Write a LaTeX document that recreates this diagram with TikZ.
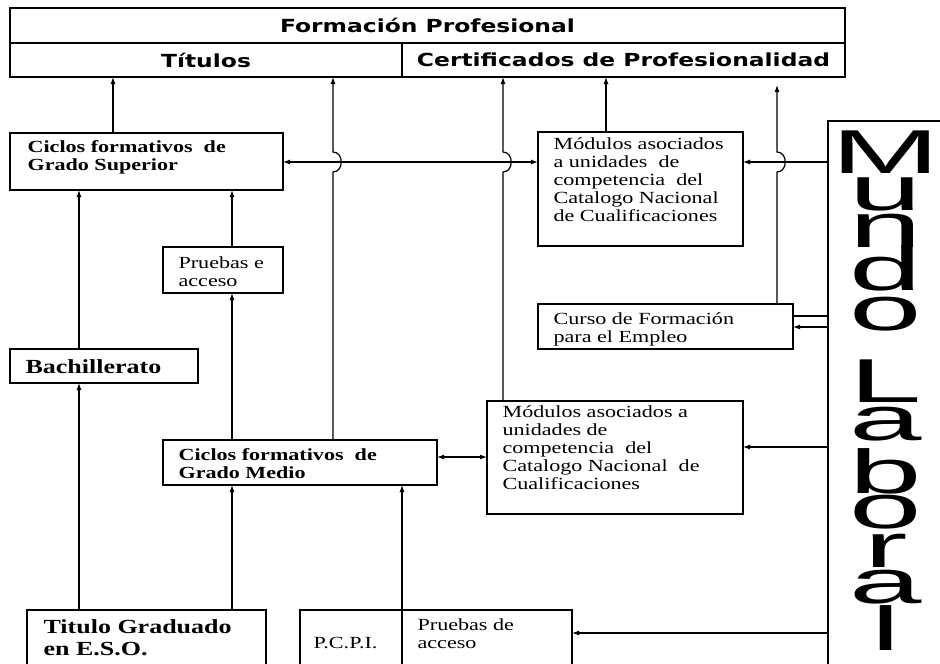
\documentclass[tikz,border=0pt]{standalone}
\usepackage{fontspec}
\setmainfont{Liberation Serif}[FakeStretch=1.3]
\newfontfamily\headfont{DejaVu Sans}[FakeStretch=1.3]
\newfontfamily\mundofont{Liberation Sans}[FakeStretch=2.1]
\usetikzlibrary{arrows.meta,calc}

\begin{document}
\begin{tikzpicture}
[ x=1pt, y=-1pt, line width=1.2pt
, box/.style={rectangle, draw, line width=1.4pt, inner sep=0pt, outer sep=0pt, anchor=north west}
, head/.style={box, font=\headfont\bfseries\fontsize{18}{20}\selectfont}
, txt/.style={anchor=north west, inner sep=0pt, align=left, font=\fontsize{17}{18}\selectfont}
, boldtxt/.style={txt, font=\fontsize{17}{18}\selectfont\bfseries}
, bigtxt/.style={txt, font=\fontsize{20}{22}\selectfont\bfseries}
, letter/.style={anchor=base, inner sep=0pt, text height=30pt, text depth=0pt, font=\mundofont\fontsize{62}{62}\selectfont}
, arrow/.style={-{Latex[length=7pt,width=5pt]}}
, twoway/.style={{Latex[length=7pt,width=5pt]}-{Latex[length=7pt,width=5pt]}}
]
\useasboundingbox (0,0) rectangle (940,664);
% Header:
\node (fp) [head, minimum width=835pt, minimum height=35pt] at (10,8) {Formación Profesional};
\node (tit) [head, minimum width=392pt, minimum height=34pt] at (10,43) {Títulos};
\node (cert) [head, minimum width=443pt, minimum height=34pt] at (402,43) {Certificados de Profesionalidad};
% Boxes:
\node (gs) [box, minimum width=273pt, minimum height=57pt] at (10,133) {};
\node (pru) [box, minimum width=120pt, minimum height=46pt] at (163,247) {};
\node (bach) [box, minimum width=188pt, minimum height=34pt] at (10,349) {};
\node (gm) [box, minimum width=274pt, minimum height=45pt] at (163,440) {};
\node (eso) [box, minimum width=239pt, minimum height=70pt] at (27,610) {};
\node (pcpi) [box, minimum width=102pt, minimum height=70pt] at (300,610) {};
\node (pru2) [box, minimum width=170pt, minimum height=70pt] at (402,610) {};
\node (mod1) [box, minimum width=205pt, minimum height=114pt] at (538,132) {};
\node (curso) [box, minimum width=255pt, minimum height=45pt] at (538,304) {};
\node (mod2) [box, minimum width=256pt, minimum height=113pt] at (487,401) {};
\node (mundo) [box, minimum width=122pt, minimum height=559pt] at (828,121) {};
% Texts:
\node (gst) [boldtxt] at ([shift={(17,7)}]gs.north west) {Ciclos formativos\ \ de\\Grado Superior};
\node (prut) [txt] at ([shift={(15,9)}]pru.north west) {Pruebas e\\acceso};
\node (bacht) [bigtxt] at ([shift={(15,10)}]bach.north west) {Bachillerato};
\node (gmt) [boldtxt] at ([shift={(15,8)}]gm.north west) {Ciclos formativos\ \ de\\Grado Medio};
\node (esot) [bigtxt] at ([shift={(16,9)}]eso.north west) {Titulo Graduado\\en E.S.O.};
\node (pcpit) [txt] at ([shift={(13,27)}]pcpi.north west) {P.C.P.I.};
\node (pru2t) [txt] at ([shift={(15,8)}]pru2.north west) {Pruebas de\\acceso};
\node (mod1t) [txt] at ([shift={(15,5)}]mod1.north west) {Módulos asociados\\a unidades\ \ de\\competencia\ \ del\\Catalogo Nacional\\de Cualificaciones};
\node (cursot) [txt] at ([shift={(15,8)}]curso.north west) {Curso de Formación\\para el Empleo};
\node (mod2t) [txt] at ([shift={(15,4)}]mod2.north west) {Módulos asociados a\\unidades de\\competencia\ \ del\\Catalogo Nacional\ \ de\\Cualificaciones};
% Mundo Laboral, one letter under the other:
\foreach \ch/\yb [count=\i] in {M/173,u/210,n/247,d/290,o/330,L/402,a/440,b/493,o/528,r/567,a/603,l/650}
  \node (ml\i) [letter] at (886,\yb) {\ch};
% Columns and rows:
\coordinate (xa) at (79,0);
\coordinate (xb) at (113,0);
\coordinate (xc) at (232,0);
\coordinate (xd) at (333,0);
\coordinate (xf) at (503,0);
\coordinate (xg) at (606,0);
\coordinate (xh) at (777,0);
\coordinate (ya) at (0,162);
\coordinate (yb) at (0,316);
\coordinate (yc) at (0,327);
\coordinate (yd) at (0,447);
\coordinate (ye) at (0,457);
\coordinate (yf) at (0,633);
% Connectors:
\draw [arrow] (eso.north -| xa) -- (bach.south -| xa);
\draw [arrow] (bach.north -| xa) -- (gs.south -| xa);
\draw [arrow] (eso.north -| xc) -- (gm.south -| xc);
\draw [arrow] (gm.north -| xc) -- (pru.south -| xc);
\draw [arrow] (pru.north -| xc) -- (gs.south -| xc);
\draw [arrow] (pcpi.north east) -- (gm.south -| pcpi.north east);
\draw [arrow] (gs.north -| xb) -- (tit.south -| xb);
\draw [arrow] (gm.north -| xd) -- ($(xd |- ya)+(0,10)$) .. controls +(11,0) and +(11,0) .. ($(xd |- ya)+(0,-10)$) -- (tit.south -| xd);
\draw [arrow] (mod2.north -| xf) -- ($(xf |- ya)+(0,10)$) .. controls +(11,0) and +(11,0) .. ($(xf |- ya)+(0,-10)$) -- (cert.south -| xf);
\draw [arrow] (mod1.north -| xg) -- (cert.south -| xg);
\draw [arrow, shorten >=8pt] (curso.north -| xh) -- ($(xh |- ya)+(0,10)$) .. controls +(11,0) and +(11,0) .. ($(xh |- ya)+(0,-10)$) -- (cert.south -| xh);
\draw [twoway] (gs.east |- ya) -- (mod1.west |- ya);
\draw [arrow] (mundo.west |- ya) -- (mod1.east |- ya);
\draw (mundo.west |- yb) -- (curso.east |- yb);
\draw [arrow] (mundo.west |- yc) -- (curso.east |- yc);
\draw [arrow] (mundo.west |- yd) -- (mod2.east |- yd);
\draw [twoway] (gm.east |- ye) -- (mod2.west |- ye);
\draw [arrow] (mundo.west |- yf) -- (pru2.east |- yf);
\end{tikzpicture}
\end{document}
